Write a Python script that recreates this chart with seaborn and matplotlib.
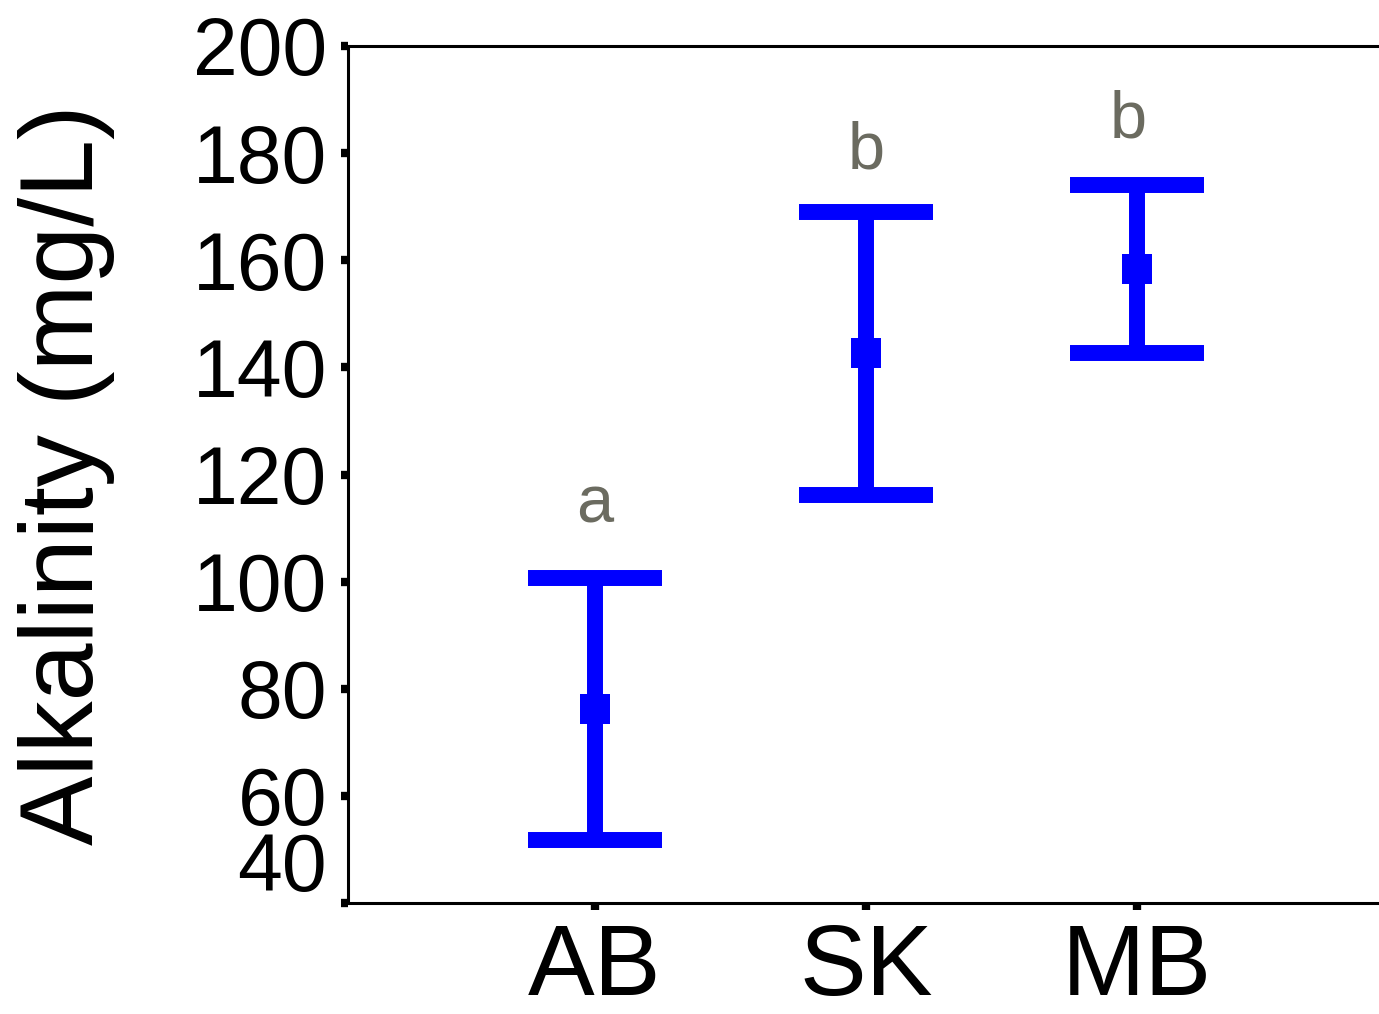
import matplotlib
matplotlib.use("Agg")
import matplotlib.pyplot as plt
import matplotlib.transforms as mtransforms
import seaborn as sns
import pandas as pd

# ---- data ----
sites = ["AB", "SK", "MB"]
means = [76.2, 142.6, 158.3]
errs = [24.4, 26.5, 15.7]
letters = ["a", "b", "b"]
letter_x = [0.0, 1.0, 1.967]
letter_y = [111.0, 177.2, 183.0]
yticks = [40, 60, 80, 100, 120, 140, 160, 180, 200]

rows = []
for s, m, e in zip(sites, means, errs):
    for v in (m - e, m, m + e):
        rows.append({"site": s, "value": v})
df = pd.DataFrame(rows)

sns.set_style("ticks")
plt.rcParams["font.family"] = ["Liberation Sans", "DejaVu Sans"]
plt.rcParams["text.color"] = "black"
plt.rcParams["axes.labelcolor"] = "black"
plt.rcParams["xtick.color"] = "black"
plt.rcParams["ytick.color"] = "black"

fig = plt.figure(figsize=(13.79, 10.14), dpi=100)
ax = fig.add_axes([348 / 1379, 111 / 1014, 1 - 348 / 1379, 857 / 1014])

sns.pointplot(
    data=df, x="site", y="value", order=sites,
    estimator="median", errorbar=lambda v: (v.min(), v.max()),
    color="#0000FF", linestyle="none", marker="s", markersize=21.6,
    markeredgewidth=0, capsize=0.498,
    err_kws={"linewidth": 11.5, "solid_capstyle": "butt"}, ax=ax,
)

for lx, lab, ly in zip(letter_x, letters, letter_y):
    ax.text(lx, ly, lab, ha="center", va="baseline", fontsize=48, color="#6b6b60")

ax.set_xlim(-0.9114, 2.893)
ax.set_ylim(40, 200)
ax.set_yticks(yticks)
ax.set_yticklabels([str(t) for t in yticks], fontsize=58)
ax.tick_params(axis="x", labelsize=72, pad=9)
ax.tick_params(axis="y", pad=10)
ax.tick_params(axis="both", direction="out", length=5, width=6,
               color="black", labelcolor="black")
ax.set_xlabel("")
ax.set_ylabel("Alkalinity (mg/L)", fontsize=75, color="black")
ax.yaxis.set_label_coords(-0.226, 0.5)

for side in ["left", "bottom", "top"]:
    ax.spines[side].set_linewidth(2.2)
    ax.spines[side].set_color("black")
ax.spines["right"].set_visible(False)

# shift the "40" label upward as in the reference
lab40 = ax.get_yticklabels()[0]
offset = mtransforms.ScaledTranslation(0, 41 / 100, fig.dpi_scale_trans)
lab40.set_transform(lab40.get_transform() + offset)

fig.savefig("out.png", dpi=100)
